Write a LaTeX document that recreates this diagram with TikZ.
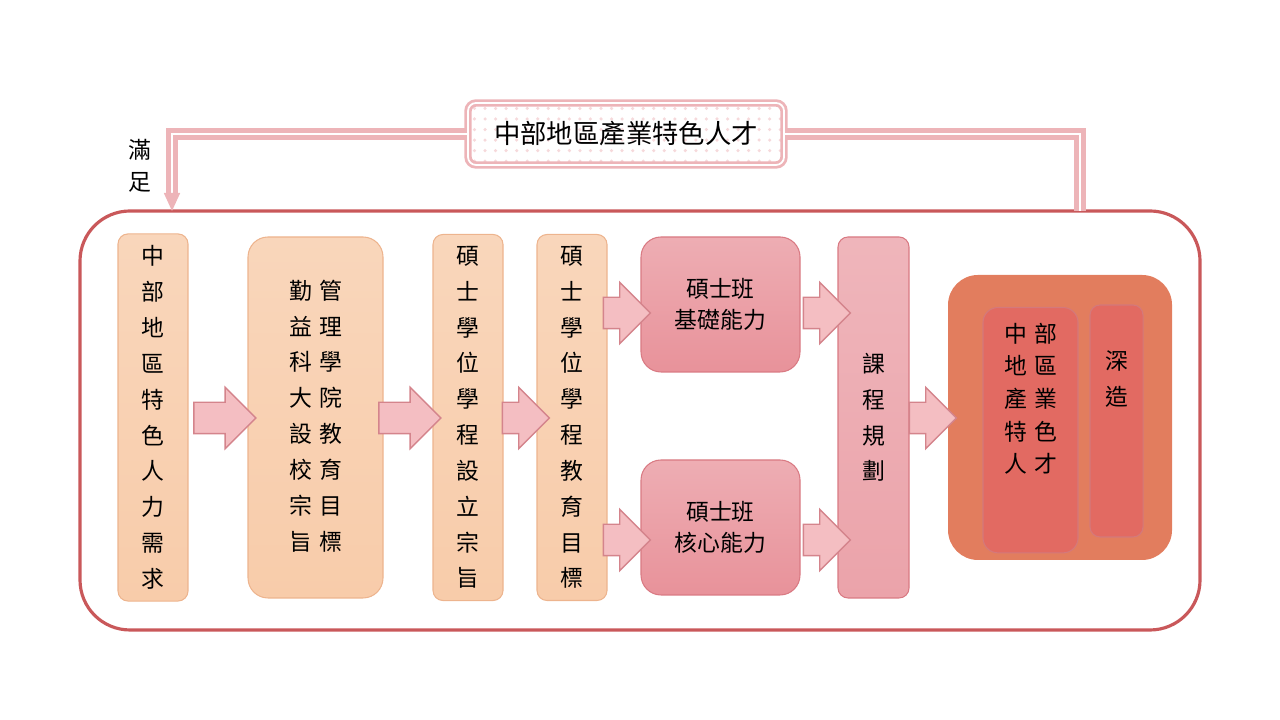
\documentclass[tikz,border=0pt]{standalone}
\usepackage{fontspec}
\setmainfont{Noto Sans CJK TC}
\usepackage{tikz}
\usetikzlibrary{shapes.arrows, calc, positioning, arrows.meta, patterns}
\definecolor{peach}{HTML}{F8CCAA}
\definecolor{peachdk}{HTML}{EDB48E}
\definecolor{rosebox}{HTML}{E8929A}
\definecolor{rosedk}{HTML}{D97A83}
\definecolor{plan}{HTML}{EBA3AA}
\definecolor{orng}{HTML}{E27D5E}
\definecolor{redin}{HTML}{E26A62}
\definecolor{frame}{HTML}{C9585A}
\definecolor{arrfill}{HTML}{F4BEC2}
\definecolor{arrline}{HTML}{D4848C}
\definecolor{fbline}{HTML}{EDB4B8}

\begin{document}
\begin{tikzpicture}[x=1cm, y=1cm,
    txt/.style={font=\fontsize{6.5}{10.2}\selectfont, align=center},
    stage/.style={txt, rounded corners=0.1cm, top color=peach!80!white, bottom color=peach, draw=peachdk, line width=0.3pt},
    skill/.style={txt, font=\fontsize{6.5}{9}\selectfont, rounded corners=0.2cm, top color=rosebox!75!white, bottom color=rosebox, draw=rosedk, line width=0.3pt},
    blk/.style={single arrow, fill=arrfill, draw=arrline, line width=0.4pt, inner sep=0.15cm, single arrow head extend=0.15cm},
    fb/.style={draw=fbline, line width=1.5pt, double=white, double distance=0.6pt}]
  \useasboundingbox (0,0) rectangle (12.8,7.2);

  % outer frame
  \draw[frame, line width=0.9pt, rounded corners=0.5cm] (0.80,0.90) rectangle (12.00,5.09);

  % top box
  \node[txt, font=\fontsize{7.5}{9}\selectfont, minimum width=3.16cm, minimum height=0.62cm, draw=fbline, double=white, double distance=0.5pt, line width=0.8pt, rounded corners=0.08cm, pattern=dots, pattern color=fbline!50!white] (talent) at (6.26,5.86) {};
  \node[txt, font=\fontsize{7.5}{9}\selectfont] (talentlbl) at (talent) {中部地區產業特色人才};
  \node[txt, font=\fontsize{6.5}{9}\selectfont] (meet) at (1.40,5.54) {滿\\足};

  % feedback lines
  \coordinate (fbL) at (1.72,5.09);
  \coordinate (fbR) at (10.80,5.09);
  \draw[fb] (talent.west) -| ($(fbL)+(0,0.17)$);
  \draw[fb] (talent.east) -| (fbR);
  \draw[fbline, line width=0.5pt, -{Triangle[length=0.18cm, width=0.16cm]}] ($(fbL)+(0,0.18)$) -- (fbL);

  % stages
  \node[stage, minimum width=0.70cm, minimum height=3.61cm] (need) at (1.53,3.025) {中\\部\\地\\區\\特\\色\\人\\力\\需\\求};
  \node[stage, minimum width=1.35cm, minimum height=3.61cm, rounded corners=0.2cm] (aim) at (3.155,3.025)
    {\begin{tabular}{@{}c@{\hspace{2pt}}c@{}}勤&管\\益&理\\科&學\\大&院\\設&教\\校&育\\宗&目\\旨&標\end{tabular}};
  \node[stage, minimum width=0.70cm, minimum height=3.61cm] (found) at (4.68,3.025) {碩\\士\\學\\位\\學\\程\\設\\立\\宗\\旨};
  \node[stage, minimum width=0.70cm, minimum height=3.61cm] (goal) at (5.72,3.025) {碩\\士\\學\\位\\學\\程\\教\\育\\目\\標};

  \node[skill, minimum width=1.59cm, minimum height=1.35cm] (basic) at (7.205,4.155) {碩士班\\基礎能力};
  \node[skill, minimum width=1.59cm, minimum height=1.35cm] (core) at (7.205,1.925) {碩士班\\核心能力};

  \node[stage, top color=plan!80!white, bottom color=plan, draw=rosedk, minimum width=0.71cm, minimum height=3.61cm] (plan) at (8.735,3.025) {課\\程\\規\\劃};

  % result
  \fill[orng, rounded corners=0.3cm] (9.48,1.60) rectangle (11.72,4.45);
  \node[txt, font=\fontsize{6.5}{9.3}\selectfont, fill=redin, draw=frame!80!white, line width=0.3pt, rounded corners=0.15cm, minimum width=0.95cm, minimum height=2.33cm, anchor=north] (result) at (10.305,4.13)
    {\begin{tabular}{@{}c@{\hspace{2pt}}c@{}}中&部\\地&區\\產&業\\特&色\\人&才\end{tabular}\\[0.55cm]};
  \node[txt, fill=redin, draw=frame!80!white, line width=0.3pt, rounded corners=0.1cm, minimum width=0.53cm, minimum height=2.32cm] (deep) at (11.165,2.99) {深\\造\\[0.5cm]};

  % block arrows
  \node[blk, minimum height=0.62cm] (a1) at (2.17,3.02) {};
  \node[blk, minimum height=0.62cm] (a2) at (4.02,3.02) {};
  \node[blk, minimum height=0.37cm] (a3) at (5.18,3.02) {};
  \node[blk, minimum height=0.41cm] (a4) at (6.19,4.07) {};
  \node[blk, minimum height=0.41cm] (a5) at (6.19,1.80) {};
  \node[blk, minimum height=0.42cm] (a6) at (8.19,4.07) {};
  \node[blk, minimum height=0.42cm] (a7) at (8.19,1.80) {};
  \node[blk, minimum height=0.43cm] (a8) at (9.25,3.02) {};
\end{tikzpicture}
\end{document}
